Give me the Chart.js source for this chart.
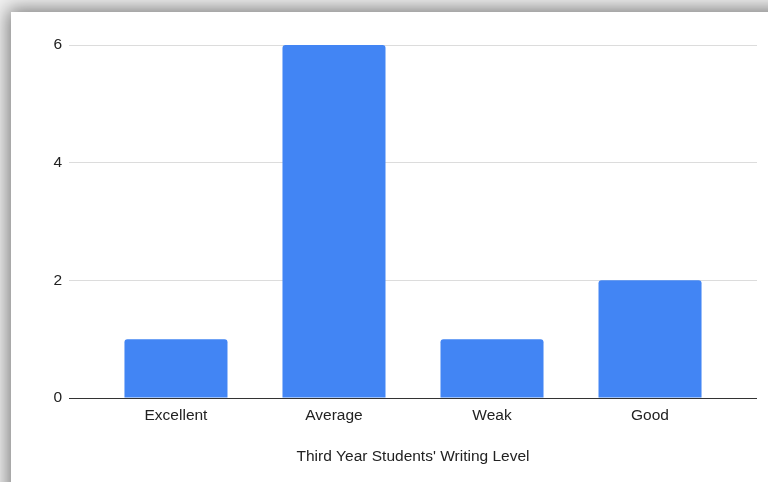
<!DOCTYPE html>
<html>
<head>
<meta charset="utf-8">
<script src="https://cdn.jsdelivr.net/npm/chart.js@4"></script>
<style>
  html, body { margin: 0; padding: 0; width: 768px; height: 482px; overflow: hidden; background: #f2f2f2; }
  #card { position: absolute; left: 11px; top: 12px; width: 800px; height: 520px; background: #fff;
          box-shadow: 0 0 18px 3px rgba(0,0,0,0.5); }
  #wrap { position: absolute; left: 0; top: 0; width: 757px; height: 470px; }
</style>
</head>
<body>
<div id="card"><div id="wrap"><canvas id="c" width="757" height="470"></canvas></div></div>
<script>
const categories = ["Excellent", "Average", "Weak", "Good"];
const counts = [1, 6, 1, 2];
const yTicks = [0, 2, 4, 6];
const xTitle = "Third Year Students' Writing Level";

const FONT = { family: "'Liberation Sans', Arial, sans-serif", size: 15.5 };

new Chart(document.getElementById('c'), {
  type: 'bar',
  data: {
    datasets: [{
      data: categories.map((c, i) => ({ x: i, y: counts[i] })),
      backgroundColor: '#4285F4',
      borderRadius: 3,
      categoryPercentage: 1,
      barPercentage: 0.652
    }]
  },
  options: {
    responsive: false,
    animation: false,
    devicePixelRatio: 1,
    layout: { padding: { left: 0, right: 11, top: 33, bottom: 0 } },
    plugins: { legend: { display: false }, tooltip: { enabled: false } },
    scales: {
      x: {
        type: 'linear',
        offset: false,
        min: -0.677,
        max: 3.677,
        afterBuildTicks: (s) => { s.ticks = categories.map((c, i) => ({ value: i })); },
        afterFit: (s) => { s.height = 84; },
        grid: { display: false, drawTicks: false },
        border: { display: false },
        ticks: { padding: 8, color: '#222', font: FONT, maxRotation: 0, autoSkip: false,
                 callback: (v) => categories[v] },
        title: { display: true, text: xTitle, color: '#222', font: FONT, padding: { top: 4, bottom: 16 } }
      },
      y: {
        min: 0,
        max: 6,
        afterBuildTicks: (s) => { s.ticks = yTicks.map(v => ({ value: v })); },
        afterFit: (s) => { s.width = 58; },
        grid: { drawTicks: false, color: (ctx) => ctx.tick && ctx.tick.value === 0 ? '#333333' : '#dcdcdc', lineWidth: 1 },
        border: { display: false },
        ticks: { padding: 7, color: '#222', font: FONT }
      }
    }
  }
});
</script>
</body>
</html>
